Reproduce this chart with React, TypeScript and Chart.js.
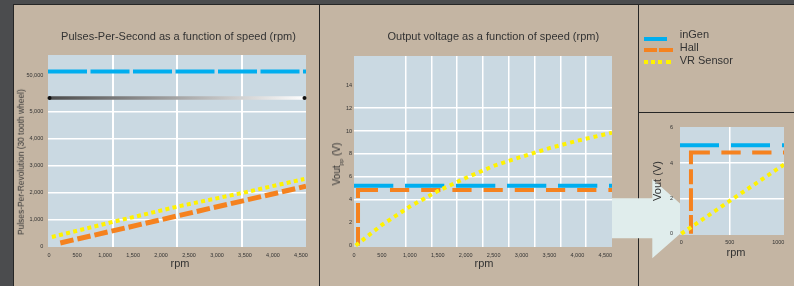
import React, { useEffect, useRef } from "react";
import { Chart, registerables } from "chart.js";

Chart.register(...registerables);

// ---------------- shared ----------------
const seriesNames = ["inGen", "Hall", "VR Sensor"];
const seriesColors = ["#00aeef", "#f5821f", "#fff200"];

// ---------------- Panel 1: Pulses-Per-Second vs rpm (broken y axis 5,000 -> 50,000) ----------------
const ppsRpmTicks = [0, 500, 1000, 1500, 2000, 2500, 3000, 3500, 4000, 4500];
const ppsValueTicks = [0, 1000, 2000, 3000, 4000, 5000, 50000];
const ppsGridValues = [1000, 2000, 3000, 4000, 5000];
const ppsInGenRpm = [-20, 4590];
const ppsInGenPps = [52000, 52000];
const ppsHallRpm = [200, 4590];
const ppsHallPps = [150, 2250];
const ppsVrRpm = [50, 1100, 2300, 3450, 4560];
const ppsVrPps = [370, 910, 1500, 2000, 2520];

// ---------------- Panel 2: Output voltage vs rpm ----------------
const voutRpmTicks = [0, 500, 1000, 1500, 2000, 2500, 3000, 3500, 4000, 4500];
const voutValueTicks = [0, 2, 4, 6, 8, 10, 12, 14];
const voutGridValues = [4, 6, 8, 10, 12];
const voutInGenRpm = [0, 4620];
const voutInGenV = [5.22, 5.22];
const voutHallRpm = [72, 72, 4620];
const voutHallV = [0, 4.85, 4.85];
const voutVrRpm = [30, 500, 1000, 1500, 2000, 2500, 3000, 3500, 4000, 4620];
const voutVrV = [0, 1.8, 3.4, 4.75, 5.9, 6.95, 7.75, 8.5, 9.15, 9.85];

// ---------------- Panel 3: zoom on 0-1000 rpm ----------------
const zoomRpmTicks = [0, 500, 1000];
const zoomValueTicks = [0, 2, 4, 6];
const zoomGridValues = [2, 4];
const zoomInGenRpm = [-13, 1059];
const zoomInGenV = [5.02, 5.02];
const zoomHallRpm = [100, 100, 1059];
const zoomHallV = [0, 4.6, 4.6];
const zoomVrRpm = [0, 500, 1059];
const zoomVrV = [0, 1.86, 3.92];

// broken-axis mapping for panel 1 (values above the break are compressed)
const AXIS_BREAK = 5520;
const UPPER_BASE = 50000;
const UPPER_POS = 6300;
const UPPER_SCALE = 0.1;
const toBroken = (v: number) => (v <= AXIS_BREAK ? v : UPPER_POS + (v - UPPER_BASE) * UPPER_SCALE);

const FONT = '"Liberation Sans", Arial, sans-serif';
const TAN = "#c4b5a3";
const PLOT = "#cad9e2";
const TEXT = "#333333";
const tickFont = { family: FONT, size: 5.5 };
const fmtComma = (v: number) => v.toLocaleString("en-US");

// hand-drawn looking dash patterns of the step-shaped Hall line
const repeatDash = (head: number[], unit: number[], n: number) => {
  const out = [...head];
  for (let i = 0; i < n; i++) out.push(...unit);
  return out.length % 2 ? [...out, unit[0]] : out;
};
const hallDashMain = repeatDash([18.5, 4, 20, 5, 28], [12, 19.2], 12);
const hallDashZoom = repeatDash([18.8, 4, 22.7, 4, 15, 5, 30.6], [11.5, 19.3], 6);

const plotBg = {
  id: "plotBg",
  beforeDraw(chart: any) {
    const { ctx, chartArea: a } = chart;
    ctx.save();
    ctx.fillStyle = PLOT;
    ctx.fillRect(a.left, a.top, a.right - a.left, a.bottom - a.top);
    ctx.restore();
  },
};

const axisBreak = {
  id: "axisBreak",
  beforeDatasetsDraw(chart: any) {
    const { ctx, chartArea: a, scales } = chart;
    const y = scales.y.getPixelForValue(AXIS_BREAK);
    const g = ctx.createLinearGradient(a.left, 0, a.right, 0);
    g.addColorStop(0, "#4a4a4a");
    g.addColorStop(1, "#ffffff");
    ctx.save();
    ctx.strokeStyle = g;
    ctx.lineWidth = 3.5;
    ctx.beginPath();
    ctx.moveTo(a.left + 1, y);
    ctx.lineTo(a.right - 1, y);
    ctx.stroke();
    ctx.fillStyle = "#111";
    for (const x of [a.left + 1.5, a.right - 1.5]) {
      ctx.beginPath();
      ctx.arc(x, y, 2, 0, Math.PI * 2);
      ctx.fill();
    }
    ctx.restore();
  },
};

function line(i: number, xs: number[], ys: number[], width: number, dash: number[], order: number) {
  return {
    label: seriesNames[i],
    data: xs.map((x, k) => ({ x, y: ys[k] })),
    borderColor: seriesColors[i],
    backgroundColor: seriesColors[i],
    borderWidth: width,
    borderDash: dash,
    borderCapStyle: "butt",
    borderJoinStyle: "miter",
    pointRadius: 0,
    tension: 0,
    fill: false,
    order,
  };
}

const setTicks = (vals: number[]) => (s: any) => {
  s.ticks = vals.map((v) => ({ value: v }));
};
const gridColor = (vals: number[]) => (ctx: any) =>
  ctx.tick && vals.includes(ctx.tick.value) ? "#ffffff" : "rgba(0,0,0,0)";

function baseOptions(padTop: number, padRight: number) {
  return {
    responsive: false,
    animation: false,
    events: [],
    devicePixelRatio: 1,
    layout: { padding: { top: padTop, right: padRight, left: 0, bottom: 0 } },
    plugins: { legend: { display: false }, tooltip: { enabled: false }, title: { display: false } },
  };
}

function cfg1(): any {
  return {
    type: "line",
    data: {
      datasets: [
        line(0, ppsInGenRpm, ppsInGenPps.map(toBroken), 4, [39, 3.5], 2),
        line(1, ppsHallRpm, ppsHallPps, 5, [13.5, 4], 1),
        line(2, ppsVrRpm, ppsVrPps, 4, [4, 3.3], 0),
      ],
    },
    plugins: [plotBg, axisBreak],
    options: {
      ...baseOptions(50, 13),
      scales: {
        x: {
          type: "linear", position: "bottom", min: -20, max: 4590, bounds: "data",
          afterBuildTicks: setTicks(ppsRpmTicks),
          afterFit: (s: any) => { s.height = 39; },
          grid: { display: false, drawTicks: false },
          border: { display: false },
          ticks: { font: tickFont, color: TEXT, padding: 4.7, maxRotation: 0, autoSkip: false, callback: (v: number) => fmtComma(v) },
        },
        xq: {
          type: "linear", position: "bottom", min: 0, max: 4, bounds: "data",
          afterBuildTicks: setTicks([1, 2, 3]),
          afterFit: (s: any) => { s.height = 0; },
          ticks: { display: false },
          grid: { color: "#ffffff", lineWidth: 2, drawTicks: false },
          border: { display: false },
        },
        y: {
          type: "linear", position: "left", min: 0, max: 7111, bounds: "data",
          afterBuildTicks: setTicks(ppsValueTicks.map(toBroken)),
          afterFit: (s: any) => { s.width = 34; },
          grid: { color: gridColor(ppsGridValues), lineWidth: 1.5, drawTicks: false },
          border: { display: false },
          ticks: { font: tickFont, color: TEXT, padding: 4.7, labelOffset: -1, autoSkip: false, callback: (_v: number, i: number) => fmtComma(ppsValueTicks[i]) },
        },
      },
    },
  };
}

function cfg2(): any {
  return {
    type: "line",
    data: {
      datasets: [
        line(0, voutInGenRpm, voutInGenV, 4, [39.3, 11.7], 2),
        line(1, voutHallRpm, voutHallV, 4, hallDashMain, 1),
        line(2, voutVrRpm, voutVrV, 4, [4, 4], 0),
      ],
    },
    plugins: [plotBg],
    options: {
      ...baseOptions(51, 26),
      scales: {
        x: {
          type: "linear", position: "bottom", min: 0, max: 4620, bounds: "data",
          afterBuildTicks: setTicks(voutRpmTicks),
          afterFit: (s: any) => { s.height = 39; },
          grid: { display: false, drawTicks: false },
          border: { display: false },
          ticks: { font: tickFont, color: TEXT, padding: 5.4, maxRotation: 0, autoSkip: false, callback: (v: number) => fmtComma(v) },
        },
        xq: {
          type: "linear", position: "bottom", min: 0, max: 10, bounds: "data",
          afterBuildTicks: setTicks([2, 3, 4, 5, 6, 7, 8, 9]),
          afterFit: (s: any) => { s.height = 0; },
          ticks: { display: false },
          grid: { color: "#ffffff", lineWidth: 1.5, drawTicks: false },
          border: { display: false },
        },
        y: {
          type: "linear", position: "left", min: -0.13, max: 16.55, bounds: "data",
          afterBuildTicks: setTicks(voutValueTicks),
          afterFit: (s: any) => { s.width = 34; },
          grid: { color: gridColor(voutGridValues), lineWidth: 1.5, drawTicks: false },
          border: { display: false },
          ticks: { font: tickFont, color: TEXT, padding: 2, autoSkip: false, callback: (v: number) => String(v) },
        },
      },
    },
  };
}

function cfg3(): any {
  return {
    type: "line",
    data: {
      datasets: [
        line(0, zoomInGenRpm, zoomInGenV, 4, [39, 12], 2),
        line(1, zoomHallRpm, zoomHallV, 4, hallDashZoom, 1),
        line(2, zoomVrRpm, zoomVrV, 4, [4, 4], 0),
      ],
    },
    plugins: [plotBg],
    options: {
      ...baseOptions(14, 10),
      scales: {
        x: {
          type: "linear", position: "bottom", min: -13, max: 1059, bounds: "data",
          afterBuildTicks: setTicks(zoomRpmTicks),
          afterFit: (s: any) => { s.height = 51; },
          grid: { color: gridColor([500]), lineWidth: 1.5, drawTicks: false },
          border: { display: false },
          ticks: { font: tickFont, color: TEXT, padding: 3.7, maxRotation: 0, autoSkip: false, callback: (v: number) => String(v) },
        },
        y: {
          type: "linear", position: "left", min: -0.07, max: 6.05, bounds: "data",
          afterBuildTicks: setTicks(zoomValueTicks),
          afterFit: (s: any) => { s.width = 41; },
          grid: { color: gridColor(zoomGridValues), lineWidth: 1.5, drawTicks: false },
          border: { display: false },
          ticks: { font: tickFont, color: TEXT, padding: 7, autoSkip: false, callback: (v: number) => String(v) },
        },
      },
    },
  };
}

function Txt(props: { x: number; y: number; size: number; rotate?: boolean; left?: boolean; children: any }) {
  const { x, y, size, rotate, left, children } = props;
  const transform = left ? "translate(0,-50%)" : `translate(-50%,-50%)${rotate ? " rotate(-90deg)" : ""}`;
  return (
    <div
      style={{
        position: "absolute",
        left: x,
        top: y,
        transform,
        fontSize: size,
        lineHeight: `${size}px`,
        whiteSpace: "nowrap",
        color: TEXT,
      }}
    >
      {children}
    </div>
  );
}

const abs = (l: number, t: number, w: number, h: number, bg: string, extra: any = {}) => ({
  position: "absolute" as const,
  left: l,
  top: t,
  width: w,
  height: h,
  background: bg,
  ...extra,
});

export default function App() {
  const c1 = useRef<HTMLCanvasElement>(null);
  const c2 = useRef<HTMLCanvasElement>(null);
  const c3 = useRef<HTMLCanvasElement>(null);

  useEffect(() => {
    Chart.defaults.font.family = FONT;
    const charts = [
      new Chart(c1.current as HTMLCanvasElement, cfg1()),
      new Chart(c2.current as HTMLCanvasElement, cfg2()),
      new Chart(c3.current as HTMLCanvasElement, cfg3()),
    ];
    return () => charts.forEach((c) => c.destroy());
  }, []);

  const LINE = "#262626";

  return (
    <div style={{ position: "fixed", left: 0, top: 0, width: 794, height: 286, background: "#4b4c4e", overflow: "hidden", fontFamily: FONT }}>
      {/* panels */}
      <div style={abs(14, 5, 780, 281, TAN)} />
      <div style={abs(13, 4, 1, 282, LINE)} />
      <div style={abs(13, 4, 781, 1, LINE)} />
      <div style={abs(319, 5, 1, 281, LINE)} />
      <div style={abs(638, 5, 1, 281, LINE)} />
      <div style={abs(638, 112, 156, 1, LINE)} />

      <canvas ref={c1} width={305} height={281} style={{ position: "absolute", left: 14, top: 5 }} />
      <canvas ref={c2} width={318} height={281} style={{ position: "absolute", left: 320, top: 5 }} />

      {/* zoom arrow */}
      <div
        style={abs(612, 179, 86, 80, "#e0edec", {
          clipPath: "polygon(0px 19.3px, 40.3px 19.3px, 40.3px 0px, 85.3px 39.7px, 40.3px 79.3px, 40.3px 59.3px, 0px 59.3px)",
        })}
      />

      <canvas ref={c3} width={155} height={173} style={{ position: "absolute", left: 639, top: 113 }} />

      {/* titles */}
      <Txt x={178.5} y={35.5} size={11}>Pulses-Per-Second as a function of speed (rpm)</Txt>
      <Txt x={493.3} y={35.5} size={11}>Output voltage as a function of speed (rpm)</Txt>

      {/* axis titles */}
      <Txt x={20.7} y={162} size={8.4} rotate>Pulses-Per-Revolution (30 tooth wheel)</Txt>
      <Txt x={180} y={262.7} size={11}>rpm</Txt>
      <Txt x={337} y={164} size={10} rotate>
        Vout<sub style={{ fontSize: 6, lineHeight: 0 }}>pp</sub> (V)
      </Txt>
      <Txt x={484} y={263.2} size={11}>rpm</Txt>
      <Txt x={656.5} y={181} size={11} rotate>Vout (V)</Txt>
      <Txt x={736} y={252} size={11}>rpm</Txt>

      {/* legend */}
      <div style={abs(644, 37, 23, 4, seriesColors[0])} />
      <div style={abs(644, 48.3, 12.5, 4, seriesColors[1])} />
      <div style={abs(658.7, 48.3, 14, 4, seriesColors[1])} />
      <div style={abs(644.3, 59.7, 4, 4, seriesColors[2])} />
      <div style={abs(651, 59.7, 4, 4, seriesColors[2])} />
      <div style={abs(657.7, 59.7, 4, 4, seriesColors[2])} />
      <div style={abs(666, 59.7, 4.7, 4, seriesColors[2])} />
      <Txt x={679.7} y={33.7} size={11} left>{seriesNames[0]}</Txt>
      <Txt x={679.7} y={47.2} size={11} left>{seriesNames[1]}</Txt>
      <Txt x={679.7} y={60.3} size={11} left>{seriesNames[2]}</Txt>
    </div>
  );
}
